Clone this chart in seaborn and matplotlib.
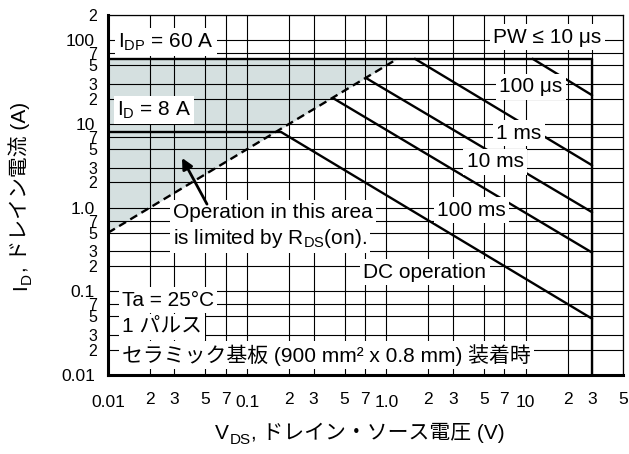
import matplotlib
matplotlib.use('Agg')
import matplotlib.pyplot as plt
import seaborn as sns
from matplotlib.ticker import FixedLocator, FixedFormatter
from matplotlib.transforms import IdentityTransform

# ---------------- data (V_DS in volts, I_D in amperes) ----------------
v_idp = [0.01, 30.0];   i_idp = [60.0, 60.0]      # pulsed drain current limit
v_vmax = [30.0, 30.0];  i_vmax = [60.0, 0.01]     # V_DSS limit
v_id = [0.01, 0.175];   i_id = [8.0, 8.0]         # DC drain current limit
v_rds = [0.01, 1.2];    i_rds = [0.5, 60.0]       # R_DS(on) limit (dashed)
v_100us = [11.2, 30.0]; i_100us = [60.0, 22.0]
v_1ms = [1.6, 30.0];    i_1ms = [60.0, 3.2]
v_10ms = [0.72, 30.0];  i_10ms = [35.0, 0.88]
v_100ms = [0.42, 30.0]; i_100ms = [20.0, 0.29]
v_dc = [0.175, 30.0];   i_dc = [8.0, 0.047]

x_major = [0.01, 0.1, 1.0, 10.0]
x_major_labels = ['0.01', '0.1', '1.0', '10']
x_minor = [0.02, 0.03, 0.05, 0.07, 0.2, 0.3, 0.5, 0.7, 2, 3, 5, 7, 20, 30, 50]
x_minor_labels = ['2', '3', '5', '7'] * 3 + ['2', '3', '5']
y_major = [0.01, 0.1, 1.0, 10.0, 100.0]
y_major_labels = ['0.01', '0.1', '1.0', '10', '100']
y_minor = [0.02, 0.03, 0.05, 0.07, 0.2, 0.3, 0.5, 0.7, 2, 3, 5, 7,
           20, 30, 50, 70, 200]
y_minor_labels = ['2', '3', '5', '7'] * 4 + ['2']

# ---------------- style ----------------
sns.set_theme(style='white')
plt.rcParams['font.family'] = ['Liberation Sans', 'Noto Sans CJK JP']
plt.rcParams['mathtext.fontset'] = 'custom'
plt.rcParams['mathtext.rm'] = 'Liberation Sans'
plt.rcParams['mathtext.it'] = 'Liberation Sans:italic'
plt.rcParams['mathtext.bf'] = 'Liberation Sans:bold'
plt.rcParams['mathtext.sf'] = 'Liberation Sans'
plt.rcParams['mathtext.default'] = 'rm'

LAT = ['Liberation Sans']
JP = ['Liberation Sans', 'Noto Sans CJK JP']

fig = plt.figure(figsize=(6.29, 4.54), dpi=100)
ax = fig.add_axes([108 / 629, 79 / 454, 515 / 629, 360 / 454])
ax.set_xscale('log')
ax.set_yscale('log')
ax.set_xlim(0.01, 50)
ax.set_ylim(0.01, 200)

# ticks / grid
ax.xaxis.set_major_locator(FixedLocator(x_major))
ax.xaxis.set_major_formatter(FixedFormatter(x_major_labels))
ax.xaxis.set_minor_locator(FixedLocator(x_minor))
ax.xaxis.set_minor_formatter(FixedFormatter(x_minor_labels))
ax.yaxis.set_major_locator(FixedLocator(y_major))
ax.yaxis.set_major_formatter(FixedFormatter(y_major_labels))
ax.yaxis.set_minor_locator(FixedLocator(y_minor))
ax.yaxis.set_minor_formatter(FixedFormatter(y_minor_labels))
ax.set_axisbelow(True)
ax.grid(True, which='both', color='black', lw=0.8)
ax.tick_params(which='both', length=0, labelsize=12.5, colors='black')
ax.tick_params(axis='x', which='major', pad=14.5)
ax.tick_params(axis='x', which='minor', pad=12)
ax.tick_params(axis='y', which='major', pad=9.5)
ax.tick_params(axis='y', which='minor', pad=8, labelsize=11.5)

for side in ['left', 'bottom']:
    ax.spines[side].set_linewidth(2.2)
    ax.spines[side].set_color('black')
for side in ['top', 'right']:
    ax.spines[side].set_linewidth(0.9)
    ax.spines[side].set_color('black')

# shaded R_DS(on)-limited area
ax.fill_between(v_rds, i_rds, [i_idp[0], i_idp[0]], color='#d5e0e0', lw=0, zorder=0.2)

# lines
solid = [(v_idp, i_idp), (v_vmax, i_vmax), (v_id, i_id), (v_100us, i_100us),
         (v_1ms, i_1ms), (v_10ms, i_10ms), (v_100ms, i_100ms), (v_dc, i_dc)]
for vv, ii in solid:
    sns.lineplot(x=vv, y=ii, ax=ax, color='black', lw=1.7, estimator=None,
                 sort=False, zorder=2)
sns.lineplot(x=v_rds, y=i_rds, ax=ax, color='black', lw=1.7, estimator=None,
             sort=False, linestyle=(0, (3.4, 2.1)), zorder=2)

box = dict(boxstyle='square,pad=0.15', fc='white', ec='none')
FS = 15


def lab(x, y, s, ha='left', fam=LAT):
    ax.text(x, y, s, ha=ha, va='center', fontsize=FS, family=fam,
            bbox=box, zorder=3, color='black')


lab(0.0118, 95, r'I$_{\rm DP}$ = 60 A')
lab(0.0116, 14.7, r'I$_{\rm D}$ = 8 A')
lab(14.3, 109, 'PW ≤ 10 μs', ha='center')
lab(10.9, 27.6, '100 μs', ha='center')
lab(8.97, 7.78, '1 ms', ha='center')
lab(6.03, 3.51, '10 ms', ha='center')
lab(4.05, 0.936, '100 ms', ha='center')
lab(1.89, 0.170, 'DC operation', ha='center')
lab(0.0293, 0.862, 'Operation in this area')
lab(0.0293, 0.433, r'is limited by R$_{\rm DS}$(on).')
lab(0.0126, 0.0787, 'Ta = 25°C')
lab(0.0126, 0.0374, '1 パルス', fam=JP)
lab(0.0126, 0.0173, 'セラミック基板 (900 mm² x 0.8 mm) 装着時', fam=JP)

ax.annotate('', xy=(0.034, 3.92), xytext=(0.0514, 1.10),
            arrowprops=dict(arrowstyle='-|>', lw=2, color='black',
                            mutation_scale=16, shrinkA=0, shrinkB=0),
            zorder=3)

# axis titles built from pieces (subscripts + Japanese fallback)
renderer = fig.canvas.get_renderer()


def chain(pieces, x0, y0, rotation=0):
    pos = 0.0
    for s, size, shift, fam in pieces:
        tmp = fig.text(0, 0, s, fontsize=size, family=fam,
                       transform=IdentityTransform())
        w = tmp.get_window_extent(renderer).width
        tmp.remove()
        if rotation == 0:
            xy = (x0 + pos, y0 + shift)
        else:
            xy = (x0 - shift, y0 + pos)
        fig.text(xy[0], xy[1], s, fontsize=size, family=fam, color='black',
                 transform=IdentityTransform(), ha='left', va='baseline',
                 rotation=rotation, rotation_mode='anchor')
        pos += w + 0.5


chain([('V', 15, 0, LAT), ('DS', 11, -5, LAT),
       (', ドレイン・ソース電圧 (V)', 15, 0, JP)], 215, 15)
chain([('I', 15, 0, LAT), ('D', 11, -5, LAT),
       (', ドレイン電流 (A)', 15, 0, JP)], 26, 164, rotation=90)

fig.savefig('out.png', dpi=100)
